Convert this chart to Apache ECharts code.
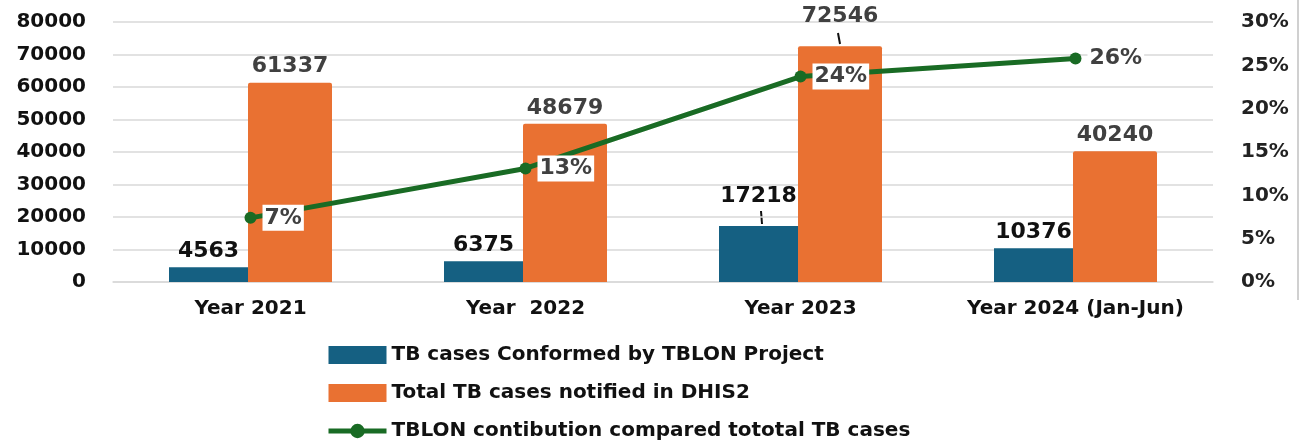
<!DOCTYPE html>
<html>
<head>
<meta charset="utf-8">
<script src="https://cdn.jsdelivr.net/npm/echarts@6/dist/echarts.min.js"></script>
<style>
  html, body { margin: 0; padding: 0; background: #fff; }
  #chart { width: 1304px; height: 446px; }
</style>
</head>
<body>
<div id="chart"></div>
<script>
const categories = ['Year 2021', 'Year  2022', 'Year 2023', 'Year 2024 (Jan-Jun)']
const tblonCases = [4563, 6375, 17218, 10376]
const dhis2Cases = [61337, 48679, 72546, 40240]
const contribution = [7.4, 13.1, 23.7, 25.8]
const contributionLabels = ['7%', '13%', '24%', '26%']

const labelFont = 'DejaVu Sans'

const chart = echarts.init(document.getElementById('chart'))
const option = {
  animation: false,
  legend: {
    orient: 'vertical',
    left: 326,
    top: 345,
    padding: 0,
    itemGap: 18,
    itemWidth: 58,
    itemHeight: 18,
    textStyle: { fontFamily: labelFont, fontWeight: 'bold', fontSize: 20, color: '#111' },
    data: [
      { name: 'TB cases Conformed by TBLON Project', icon: 'rect' },
      { name: 'Total TB cases notified in DHIS2', icon: 'rect' },
      {
        name: 'TBLON contibution compared tototal TB cases',
        lineStyle: { width: 5, color: '#196b24' },
        itemStyle: { color: '#196b24' }
      }
    ]
  },
  grid: { left: 113, right: 91, top: 22, bottom: 164 },
  xAxis: {
    type: 'category',
    data: categories,
    axisTick: { show: false },
    axisLine: { lineStyle: { color: '#d9d9d9', width: 1.5 } },
    axisLabel: {
      interval: 0,
      fontFamily: labelFont, fontWeight: 'bold', fontSize: 20, color: '#111', margin: 17
    }
  },
  yAxis: [
    {
      type: 'value',
      min: 0,
      max: 80000,
      interval: 10000,
      splitLine: { lineStyle: { color: '#d9d9d9', width: 1.5 } },
      axisLabel: {
        fontFamily: labelFont, fontWeight: 'bold', fontSize: 20, color: '#111', margin: 27,
        formatter: v => String(v)
      }
    },
    {
      type: 'value',
      min: 0,
      max: 30,
      interval: 5,
      splitLine: { show: false },
      axisLabel: {
        fontFamily: labelFont, fontWeight: 'bold', fontSize: 20, color: '#222',
        margin: 28, align: 'left', formatter: '{value}%'
      }
    }
  ],
  series: [
    {
      name: 'TB cases Conformed by TBLON Project',
      type: 'bar',
      data: tblonCases.map((v, i) => i === 2 ? { value: v, label: { offset: [0, -14] } } : v),
      barWidth: 79,
      barGap: '0%',
      itemStyle: { color: '#156082' },
      label: {
        show: true, position: 'top', distance: 5,
        fontFamily: labelFont, fontWeight: 'bold', fontSize: 22, color: '#111'
      },
      z: 2
    },
    {
      name: 'Total TB cases notified in DHIS2',
      type: 'bar',
      data: dhis2Cases.map((v, i) => i === 2 ? { value: v, label: { offset: [0, -14] } } : v),
      barWidth: 84,
      itemStyle: { color: '#e97132', borderRadius: [2, 2, 0, 0] },
      label: {
        show: true, position: 'top', distance: 5,
        fontFamily: labelFont, fontWeight: 'bold', fontSize: 22, color: '#404040'
      },
      z: 2
    },
    {
      name: 'TBLON contibution compared tototal TB cases',
      type: 'line',
      yAxisIndex: 1,
      data: contribution,
      symbol: 'circle',
      symbolSize: 12,
      lineStyle: { color: '#196b24', width: 5 },
      itemStyle: { color: '#196b24' },
      label: {
        show: true,
        position: 'right',
        distance: 6,
        formatter: p => contributionLabels[p.dataIndex],
        fontFamily: labelFont, fontWeight: 'bold', fontSize: 22, color: '#404040',
        backgroundColor: '#fff',
        padding: [3, 2, 1, 2]
      },
      z: 5
    }
  ],
  graphic: [
    {
      type: 'line',
      shape: { x1: 1298, y1: 0, x2: 1298, y2: 300 },
      style: { stroke: '#d0d0d0', lineWidth: 2 }
    },
    {
      type: 'line',
      shape: { x1: 838, y1: 33, x2: 840, y2: 44 },
      style: { stroke: '#111', lineWidth: 2 }
    },
    {
      type: 'line',
      shape: { x1: 761, y1: 211, x2: 762, y2: 224 },
      style: { stroke: '#111', lineWidth: 2 }
    }
  ]
}
chart.setOption(option)
</script>
</body>
</html>
